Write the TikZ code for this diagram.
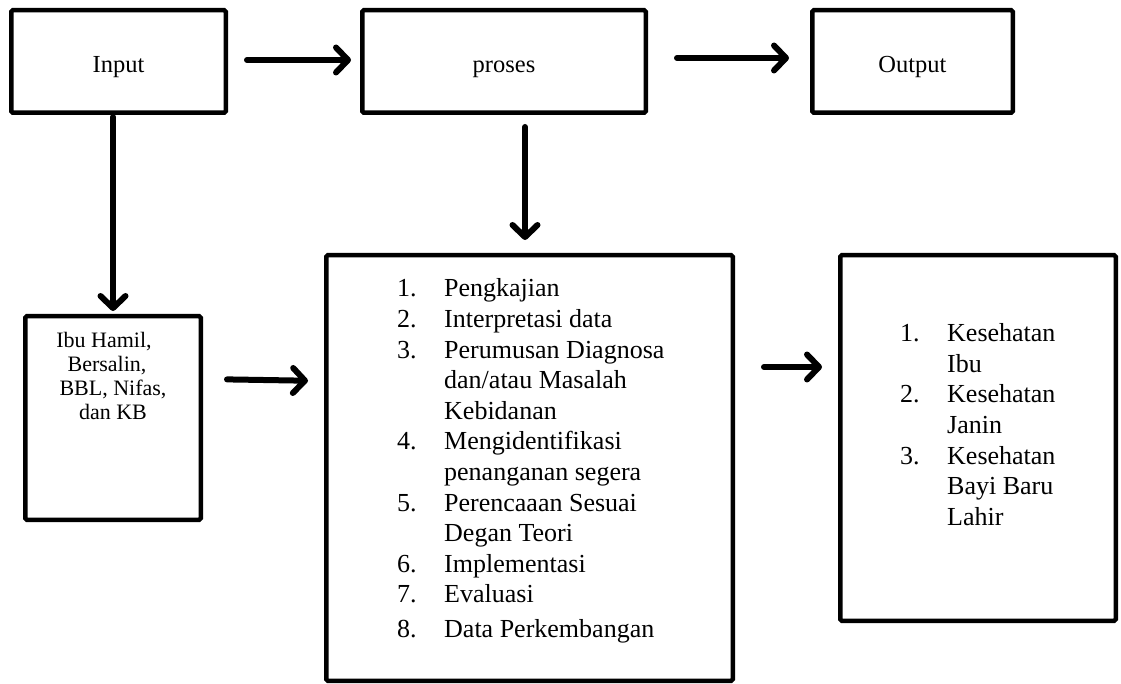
\documentclass[tikz,border=0pt]{standalone}
\usepackage{fontspec}
\setmainfont{Liberation Serif}
\usetikzlibrary{arrows.meta}

\begin{document}
\begin{tikzpicture}[x=1pt, y=-1pt,
  box/.style={draw, line width=4.5pt, rounded corners=1.5pt, inner sep=0pt},
  topbox/.style={box, minimum height=102.5pt,
    font=\fontsize{24.5}{29}\selectfont, text height=24pt, text depth=1pt},
  listtext/.style={inner sep=0pt, font=\fontsize{26}{30.6}\selectfont},
  flow/.style={line width=6pt, line cap=round,
    -{Straight Barb[length=12pt, width=25pt, line cap=round, line join=round]},
    preaction={draw=black!45, opacity=0.3,
      transform canvas={xshift=1.5pt, yshift=-2pt}}}
]
\useasboundingbox (0,0) rectangle (1121,684);

% upper row
\node[topbox, minimum width=214.5pt] (input)  at (118.5,61.5) {Input};
\node[topbox, minimum width=283.5pt] (proses) at (504,61.5)   {proses};
\node[topbox, minimum width=200.5pt] (output) at (912.5,61.5) {Output};

% lower row
\node[box, minimum width=175.5pt, minimum height=203.5pt] (ibu)     at (113,418)   {};
\node[box, minimum width=406.5pt, minimum height=425.5pt] (langkah) at (529.5,468) {};
\node[box, minimum width=275.5pt, minimum height=365.5pt] (hasil)   at (978,438)   {};

\node[inner sep=0pt, anchor=base, font=\fontsize{22}{24}\selectfont] (ibutxt) at (113,347.5)
  {\begin{tabular}[t]{@{}c@{}}Ibu Hamil,\hspace*{18pt}\\ Bersalin,\hspace*{12pt}\\ BBL, Nifas,\\ dan KB\end{tabular}};

\node[listtext, anchor=base west] (langkahtxt) at (397,297)
  {\begin{tabular}[t]{@{}p{47pt}@{}l@{}}
  1. & Pengkajian\\
  2. & Interpretasi data\\
  3. & Perumusan Diagnosa\\
     & dan/atau Masalah\\
     & Kebidanan\\
  4. & Mengidentifikasi\\
     & penanganan segera\\
  5. & Perencaaan Sesuai\\
     & Degan Teori\\
  6. & Implementasi\\
  7. & Evaluasi\\[4.4pt]
  8. & Data Perkembangan
  \end{tabular}};

\node[listtext, anchor=base west] (hasiltxt) at (900,341.7)
  {\begin{tabular}[t]{@{}p{47pt}@{}l@{}}
  1. & Kesehatan\\
     & Ibu\\
  2. & Kesehatan\\
     & Janin\\
  3. & Kesehatan\\
     & Bayi Baru\\
     & Lahir
  \end{tabular}};

% connectors
\draw[flow, shorten <=19pt, shorten >=9pt] ([yshift=1.5pt]input.east) -- ([yshift=1.5pt]proses.west);
\draw[flow, shorten <=29pt, shorten >=21pt] ([yshift=3.5pt]proses.east) -- ([yshift=3.5pt]output.west);
\draw[flow, shorten <=2pt, shorten >=3pt] (input.south -| ibu.north) -- (ibu.north);
\draw[flow, shorten <=12pt, shorten >=13pt] ([xshift=21pt]proses.south) -- ([xshift=-4.5pt]langkah.north);
\draw[flow, shorten <=24pt, shorten >=16pt] ([yshift=39pt]ibu.east) -- ([yshift=87pt]langkah.west);
\draw[flow, shorten <=29pt, shorten >=16pt] ([yshift=101pt]langkah.east) -- ([yshift=71pt]hasil.west);
\end{tikzpicture}
\end{document}
